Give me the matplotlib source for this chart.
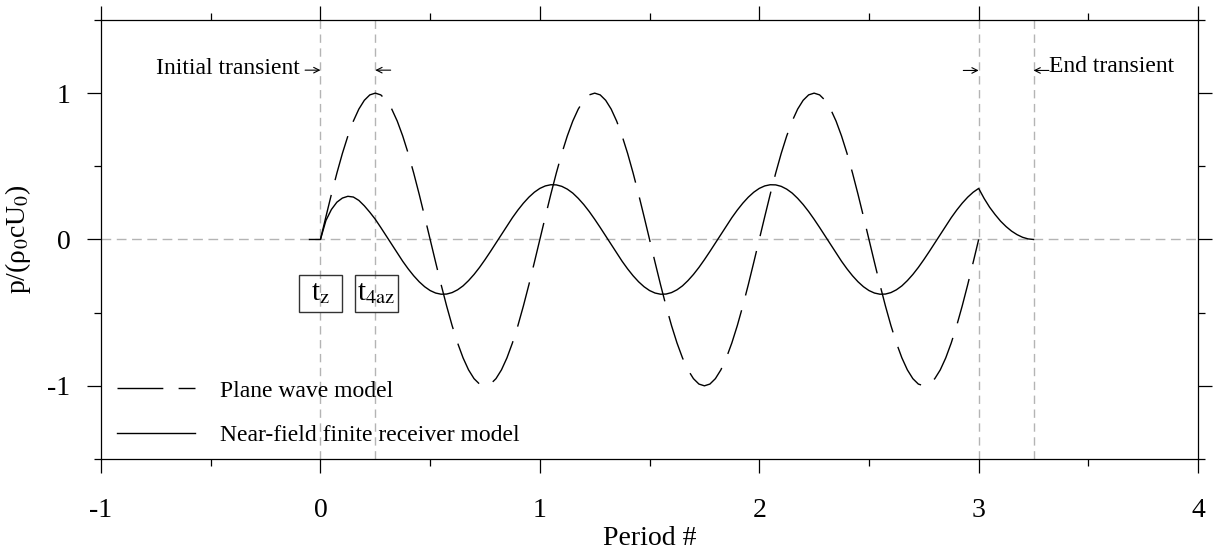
import numpy as np
import matplotlib
matplotlib.use('Agg')
import matplotlib.pyplot as plt
from matplotlib.patches import Rectangle

plt.rcParams['font.family'] = ['Liberation Serif', 'DejaVu Serif']
plt.rcParams['mathtext.fontset'] = 'stix'
plt.rcParams['axes.unicode_minus'] = False

# time axis in periods, sampled every 0.025
t_plane = np.round(np.arange(0, 3.0001, 0.025), 3)
p_plane = [
    0.00, 0.156, 0.309, 0.454, 0.588, 0.707, 0.809, 0.891, 0.951, 0.988,
    1.00, 0.988, 0.951, 0.891, 0.809, 0.707, 0.588, 0.454, 0.309, 0.156,
    0.00, -0.156, -0.309, -0.454, -0.588, -0.707, -0.809, -0.891, -0.951, -0.988,
    -1.00, -0.988, -0.951, -0.891, -0.809, -0.707, -0.588, -0.454, -0.309, -0.156,
    0.00, 0.156, 0.309, 0.454, 0.588, 0.707, 0.809, 0.891, 0.951, 0.988,
    1.00, 0.988, 0.951, 0.891, 0.809, 0.707, 0.588, 0.454, 0.309, 0.156,
    0.00, -0.156, -0.309, -0.454, -0.588, -0.707, -0.809, -0.891, -0.951, -0.988,
    -1.00, -0.988, -0.951, -0.891, -0.809, -0.707, -0.588, -0.454, -0.309, -0.156,
    0.00, 0.156, 0.309, 0.454, 0.588, 0.707, 0.809, 0.891, 0.951, 0.988,
    1.00, 0.988, 0.951, 0.891, 0.809, 0.707, 0.588, 0.454, 0.309, 0.156,
    0.00, -0.156, -0.309, -0.454, -0.588, -0.707, -0.809, -0.891, -0.951, -0.988,
    -1.00, -0.988, -0.951, -0.891, -0.809, -0.707, -0.588, -0.454, -0.309, -0.156,
    0.00,
]

t_near = np.round(np.arange(-0.05, 3.2501, 0.025), 3)
p_near = [
    # initial transient
    0.00, 0.00, 0.00, 0.13, 0.205, 0.255, 0.283, 0.295, 0.29, 0.267, 0.23, 0.186,
    # first cycle
    0.138, 0.082, 0.024, -0.035, -0.093, -0.149, -0.201, -0.248, -0.289, -0.323,
    -0.349, -0.366, -0.374, -0.373, -0.363, -0.344, -0.317, -0.281, -0.239, -0.191,
    -0.138, -0.082, -0.024, 0.035, 0.093, 0.149, 0.201, 0.248, 0.289, 0.323,
    0.349, 0.366, 0.374, 0.373, 0.363, 0.344, 0.317, 0.281, 0.239, 0.191,
    # second cycle
    0.138, 0.082, 0.024, -0.035, -0.093, -0.149, -0.201, -0.248, -0.289, -0.323,
    -0.349, -0.366, -0.374, -0.373, -0.363, -0.344, -0.317, -0.281, -0.239, -0.191,
    -0.138, -0.082, -0.024, 0.035, 0.093, 0.149, 0.201, 0.248, 0.289, 0.323,
    0.349, 0.366, 0.374, 0.373, 0.363, 0.344, 0.317, 0.281, 0.239, 0.191,
    # last cycle up to t = 3
    0.138, 0.082, 0.024, -0.035, -0.093, -0.149, -0.201, -0.248, -0.289, -0.323,
    -0.349, -0.366, -0.374, -0.373, -0.363, -0.344, -0.317, -0.281, -0.239, -0.191,
    -0.138, -0.082, -0.024, 0.035, 0.093, 0.149, 0.201, 0.248,
    0.289, 0.323, 0.349,
    # end transient
    0.28, 0.22, 0.17, 0.125, 0.088, 0.057, 0.033, 0.015, 0.004, 0.00,
]

transient_t = [0, 0.25, 3, 3.25]
x_major = [-1, 0, 1, 2, 3, 4]
x_minor = [-0.5, 0.5, 1.5, 2.5, 3.5]
y_major = [-1, 0, 1]
y_minor = [-1.5, -0.5, 0.5, 1.5]

fig = plt.figure(figsize=(12.13, 5.53), dpi=100)
ax = fig.add_axes([0.0833, 0.170, 0.9044, 0.7939])

grey = '#b4b4b4'
for tm in transient_t:
    ax.axvline(tm, color=grey, lw=1.0, dashes=(6, 4), zorder=0)
ax.axhline(0, color=grey, lw=1.0, dashes=(7, 4), zorder=0)

ax.plot(t_plane, p_plane, color='black', lw=1.0, dashes=(33, 11),
        label='Plane wave model')
ax.plot(t_near, p_near, color='black', lw=1.0,
        label='Near-field finite receiver model')

ax.set_xlim(-1, 4)
ax.set_ylim(-1.5, 1.5)
ax.set_xticks(x_major)
ax.set_xticks(x_minor, minor=True)
ax.set_yticks(y_major)
ax.set_yticks(y_minor, minor=True)
ax.set_xticklabels([str(v) for v in x_major])
ax.set_yticklabels([str(v) for v in y_major])
ax.tick_params(which='both', direction='out', top=True, right=True, width=0.9)
ax.tick_params(which='major', length=10)
ax.tick_params(which='minor', length=5)
ax.tick_params(axis='x', which='major', labelsize=20, pad=18)
ax.tick_params(axis='y', which='major', labelsize=20, pad=12)
for sp in ax.spines.values():
    sp.set_linewidth(0.9)

ax.set_xlabel('Period #', fontsize=20, labelpad=2)
ax.set_ylabel('p/(ρ$_0$cU$_0$)', fontsize=20, labelpad=10)

# transient markers along the top
arr = dict(arrowstyle='->', lw=0.8, shrinkA=0, shrinkB=0, mutation_scale=10)
ax.text(-0.096, 1.13, 'Initial transient', fontsize=17, ha='right', va='baseline')
ax.annotate('', xy=(transient_t[0], 1.157), xytext=(transient_t[0] - 0.07, 1.157), arrowprops=arr)
ax.annotate('', xy=(transient_t[1], 1.157), xytext=(transient_t[1] + 0.07, 1.157), arrowprops=arr)
ax.annotate('', xy=(transient_t[2], 1.155), xytext=(transient_t[2] - 0.07, 1.155), arrowprops=arr)
ax.annotate('', xy=(transient_t[3], 1.155), xytext=(transient_t[3] + 0.07, 1.155), arrowprops=arr)
ax.text(transient_t[3] + 0.07, 1.144, 'End transient', fontsize=17, ha='left', va='baseline')

# time markers
for tc, lab in [(0.0, 't$_{\\mathrm{z}}$'), (0.255, 't$_{\\mathrm{4az}}$')]:
    ax.add_patch(Rectangle((tc - 0.097, -0.493), 0.194, 0.253, fill=False,
                           edgecolor='#333333', lw=1.0, zorder=3))
    ax.text(tc, -0.366, lab, fontsize=21, ha='center', va='center', zorder=4)

ax.legend(loc='lower left', bbox_to_anchor=(0.0146, 0.03), frameon=False,
          fontsize=17, handlelength=3.3, handletextpad=1.06, labelspacing=0.96,
          borderpad=0, borderaxespad=0)

fig.savefig('out.png', dpi=100)
